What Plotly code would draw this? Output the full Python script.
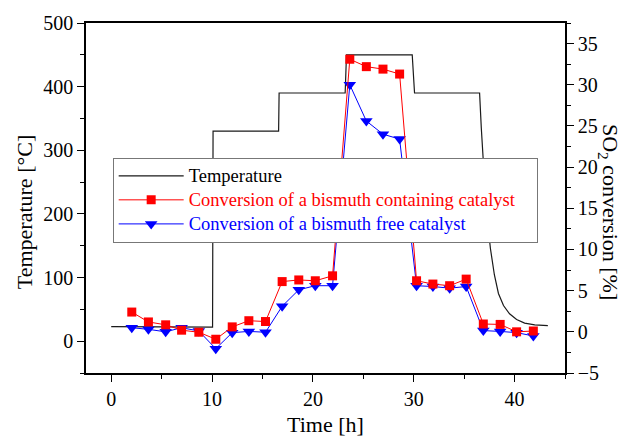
import plotly.graph_objects as go

# Oven temperature programme (left axis)
temp_time = [0.0, 10.05, 10.1, 16.6, 16.65, 23.2, 23.33, 29.85, 30.08, 36.53,
             36.7, 36.9, 37.1, 37.3, 37.6, 38.0, 38.4, 38.9, 39.5, 40.2,
             41.0, 42.0, 43.3]
temp_degC = [23, 22, 330, 330, 390, 390, 450, 450, 390, 390,
             335, 278, 230, 192, 146, 104, 75, 56, 43, 34,
             28.5, 25.5, 24.5]

# SO2 conversion measurements (right axis)
meas_time = [2.04, 3.69, 5.4, 6.98, 8.69, 10.37, 12.0, 13.65, 15.3, 16.95,
             18.6, 20.24, 21.95, 23.66, 25.3, 26.95, 28.6, 30.28, 31.9, 33.56,
             35.2, 36.9, 38.57, 40.2, 41.86]
conv_bi = [2.4, 1.2, 0.85, 0.2, -0.05, -0.9, 0.6, 1.35, 1.25, 6.1,
           6.3, 6.2, 6.8, 33.1, 32.2, 31.9, 31.3, 6.2, 5.8, 5.6,
           6.4, 0.95, 0.9, 0.0, 0.1]
conv_free = [0.5, 0.3, 0.0, 0.5, 0.1, -2.05, -0.1, 0.05, -0.05, 3.1,
             5.1, 5.6, 5.6, 30.0, 25.6, 24.0, 23.4, 5.6, 5.5, 5.3,
             5.5, 0.15, 0.05, -0.1, -0.5]

FONT = "Times New Roman, Liberation Serif, serif"
NBSP = "\u00a0"


def legend_label(text, color, pad=0):
    return (f'<span style="color:{color};font-size:18.5px">{text}</span>'
            + NBSP * pad)


fig = go.Figure()
fig.add_trace(go.Scatter(
    x=temp_time, y=temp_degC, mode="lines",
    name=legend_label("Temperature", "#000000"),
    line=dict(color="#1a1a1a", width=1.2), legendrank=1))
fig.add_trace(go.Scatter(
    x=meas_time, y=conv_free, mode="lines+markers", yaxis="y2",
    name=legend_label("Conversion of a bismuth free catalyst", "#0000ff"),
    line=dict(color="#0000ff", width=1),
    marker=dict(symbol="triangle-down", size=11, color="#0000ff"),
    legendrank=3))
fig.add_trace(go.Scatter(
    x=meas_time, y=conv_bi, mode="lines+markers", yaxis="y2",
    name=legend_label("Conversion of a bismuth containing catalyst",
                      "#ff0000", pad=4),
    line=dict(color="#ff0000", width=1),
    marker=dict(symbol="square", size=9, color="#ff0000"),
    legendrank=2))

axis_common = dict(
    showgrid=False, zeroline=False, showline=True, linecolor="black",
    linewidth=1.5, ticks="outside", ticklen=7, tickwidth=1.2,
    tickcolor="black", tickfont=dict(family=FONT, size=20, color="black"),
)

fig.update_layout(
    width=624, height=438,
    margin=dict(l=86, r=59, t=20, b=65),
    paper_bgcolor="white", plot_bgcolor="white",
    font=dict(family=FONT, size=18, color="black"),
    showlegend=True,
    xaxis=dict(range=[-2.5, 45], dtick=10, tick0=0, mirror=True,
               minor=dict(dtick=5, ticks="outside", ticklen=4,
                          tickcolor="black"),
               **axis_common),
    yaxis=dict(range=[-50, 500], dtick=100, tick0=0,
               minor=dict(dtick=50, ticks="outside", ticklen=4,
                          tickcolor="black"),
               **axis_common),
    yaxis2=dict(range=[-5, 37.5], dtick=5, tick0=0, overlaying="y",
                side="right",
                minor=dict(dtick=2.5, ticks="outside", ticklen=4,
                           tickcolor="black"),
                **axis_common),
    legend=dict(x=0.0557, y=0.615, xanchor="left", yanchor="top",
                bgcolor="white", bordercolor="#777777", borderwidth=1,
                font=dict(family=FONT, size=16.2, color="black"),
                tracegroupgap=0, itemwidth=65),
    annotations=[
        dict(text="Time [h]", x=0.5, y=-0.148, xref="paper", yref="paper",
             xanchor="center", yanchor="middle", showarrow=False,
             font=dict(family=FONT, size=22)),
        dict(text="Temperature [°C]", x=-0.129, y=0.46, xref="paper",
             yref="paper", xanchor="center", yanchor="middle",
             textangle=-90, showarrow=False,
             font=dict(family=FONT, size=22)),
        dict(text="SO<sub>2</sub> conversion [%]", x=1.092, y=0.46,
             xref="paper", yref="paper", xanchor="center",
             yanchor="middle", textangle=90, showarrow=False,
             font=dict(family=FONT, size=22)),
    ],
)

fig.write_html("out.html")
